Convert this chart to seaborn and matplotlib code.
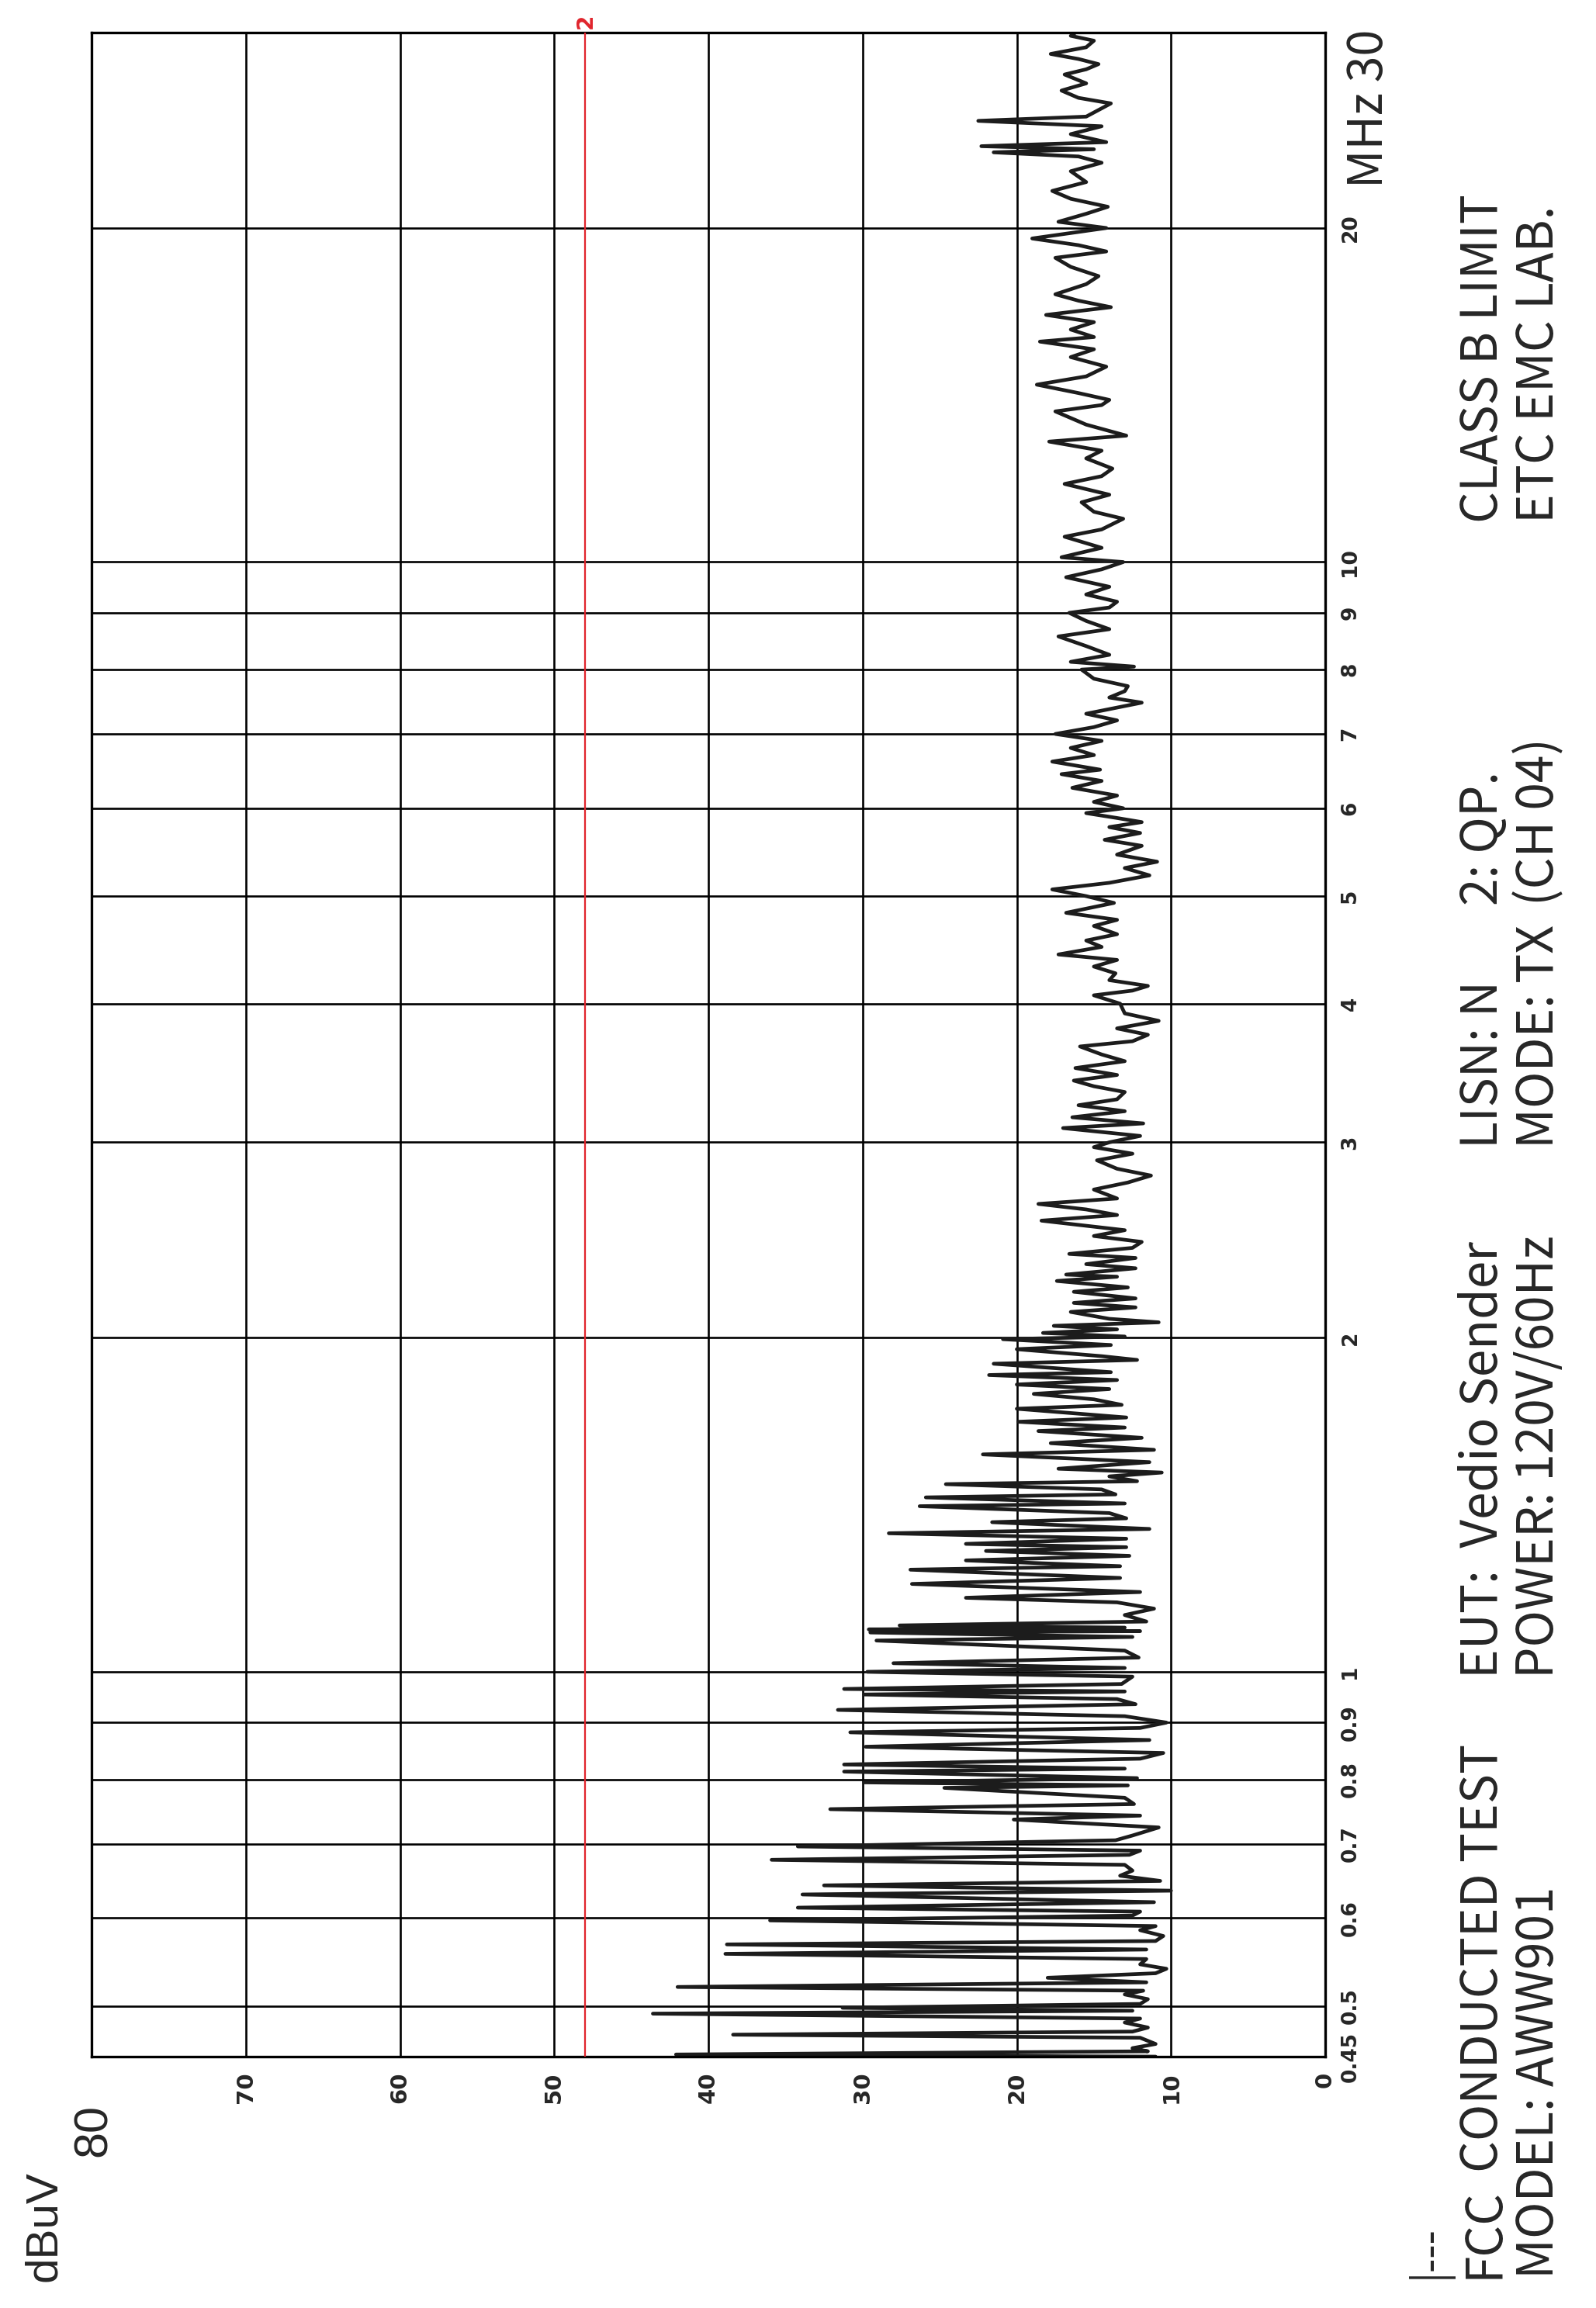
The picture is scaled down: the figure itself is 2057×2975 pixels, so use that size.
import matplotlib
matplotlib.use("Agg")
import matplotlib.pyplot as plt
import matplotlib.ticker as mticker
import seaborn as sns
import pandas as pd

# ---- trace (MHz, dBuV) ----
freq_mhz = [
    # 0.45 - 0.7 MHz
    0.450, 0.452, 0.455, 0.458, 0.462, 0.468, 0.471, 0.474, 0.478, 0.483,
    0.487, 0.492, 0.495, 0.498, 0.502, 0.507, 0.512, 0.516, 0.520, 0.525,
    0.530, 0.535, 0.540, 0.545, 0.551, 0.557, 0.562, 0.568, 0.572, 0.578,
    0.585, 0.590, 0.597, 0.603, 0.608, 0.613, 0.620, 0.630, 0.635, 0.642,
    0.648, 0.655, 0.662, 0.670, 0.677, 0.684, 0.690, 0.696, 0.705,
    # 0.7 - 1.09 MHz
    0.712, 0.724, 0.736, 0.742, 0.752, 0.760, 0.770, 0.786, 0.790, 0.795,
    0.802, 0.813, 0.818, 0.825, 0.835, 0.845, 0.856, 0.868, 0.882, 0.890,
    0.900, 0.912, 0.924, 0.935, 0.945, 0.954, 0.960, 0.965, 0.975, 0.990,
    1.000, 1.008, 1.018, 1.030, 1.045, 1.067, 1.075, 1.085,
    # 1.09 - 2.05 MHz
    1.088, 1.092, 1.096, 1.101, 1.110, 1.125, 1.140, 1.155, 1.166, 1.180,
    1.200, 1.215, 1.236, 1.245, 1.260, 1.272, 1.285, 1.295, 1.304, 1.318,
    1.333, 1.345, 1.364, 1.375, 1.390, 1.410, 1.418, 1.436, 1.445, 1.460,
    1.476, 1.485, 1.500, 1.512, 1.524, 1.545, 1.570, 1.585, 1.607, 1.625,
    1.648, 1.660, 1.680, 1.695, 1.726, 1.740, 1.760, 1.780, 1.798, 1.815,
    1.832, 1.851, 1.862, 1.895, 1.910, 1.925, 1.953, 1.970, 1.994, 2.005,
    2.020, 2.035, 2.050,
    # 2 - 5.3 MHz
    2.065, 2.08, 2.11, 2.13, 2.15, 2.17, 2.20, 2.22, 2.25, 2.27,
    2.28, 2.31, 2.33, 2.36, 2.38, 2.41, 2.44, 2.47, 2.50, 2.55,
    2.58, 2.61, 2.64, 2.67, 2.72, 2.76, 2.80, 2.84, 2.89, 2.93,
    2.97, 3.00, 3.04, 3.09, 3.12, 3.16, 3.20, 3.24, 3.28, 3.33,
    3.37, 3.41, 3.45, 3.50, 3.55, 3.60, 3.66, 3.70, 3.75, 3.80,
    3.86, 3.92, 4.00, 4.07, 4.11, 4.15, 4.20, 4.26, 4.32, 4.38,
    4.43, 4.50, 4.56, 4.62, 4.70, 4.76, 4.83, 4.93, 5.00, 5.07,
    5.14, 5.22, 5.30,
    # 5.3 - 14 MHz
    5.37, 5.45, 5.55, 5.62, 5.70, 5.77, 5.83, 5.88, 5.94, 6.00,
    6.08, 6.16, 6.26, 6.35, 6.44, 6.50, 6.61, 6.70, 6.80, 6.90,
    7.00, 7.10, 7.20, 7.30, 7.47, 7.55, 7.65, 7.73, 7.85, 8.00,
    8.05, 8.13, 8.25, 8.40, 8.57, 8.70, 8.85, 9.00, 9.10, 9.21,
    9.35, 9.50, 9.69, 9.85, 10.0, 10.1, 10.3, 10.54, 10.7, 10.94,
    11.1, 11.32, 11.5, 11.76, 11.95, 12.14, 12.4, 12.6, 12.84, 13.0,
    13.3, 13.67, 13.85,
    # 14 - 30 MHz
    14.0, 14.2, 14.45, 14.7, 15.0, 15.3, 15.55, 15.8, 15.95, 16.2,
    16.45, 16.7, 16.97, 17.2, 17.43, 17.8, 18.1, 18.45, 18.8, 19.05,
    19.3, 19.57, 20.0, 20.26, 20.6, 20.9, 21.25, 21.6, 22.0, 22.5,
    22.9, 23.2, 23.4, 23.55, 23.7, 23.9, 24.3, 24.7, 24.98, 25.2,
    25.9, 26.2, 26.6, 27.0, 27.5, 27.8, 28.1, 28.4, 28.7, 29.1,
    29.5, 29.8, 30.0,
]
level_dbuv = [
    11.0, 42.1, 11.5, 12.5, 11.0, 12.0, 38.4, 12.5, 11.5, 13.0,
    12.0, 43.6, 12.5, 31.3, 12.0, 11.5, 13.0, 11.8, 42.0, 11.6,
    18.0, 11.0, 10.3, 12.0, 11.6, 38.9, 11.6, 38.8, 11.0, 10.5,
    12.0, 11.0, 36.0, 12.5, 12.0, 34.2, 11.1, 33.9, 10.0, 32.5,
    10.7, 13.3, 12.5, 13.0, 35.9, 12.7, 12.0, 34.2, 13.6,

    12.5, 10.8, 20.2, 12.0, 32.1, 12.4, 13.0, 24.7, 12.8, 29.9,
    12.2, 31.2, 13.0, 31.2, 12.0, 10.5, 29.8, 11.4, 30.8, 12.0,
    10.3, 13.0, 31.6, 12.3, 13.5, 29.9, 13.0, 31.2, 13.2, 12.5,
    29.7, 13.0, 28.0, 12.1, 13.0, 29.1, 12.5, 29.5,

    12.0, 29.6, 13.0, 27.6, 11.6, 13.0, 11.1, 13.5, 23.3, 12.0,
    26.8, 13.3, 26.9, 13.3, 23.3, 12.7, 22.0, 12.9, 23.3, 12.9,
    28.3, 11.4, 21.6, 12.9, 14.0, 26.3, 13.0, 25.9, 13.6, 14.5,
    24.6, 12.2, 14.0, 10.6, 17.3, 11.4, 22.2, 11.1, 17.8, 11.9,
    18.6, 13.0, 19.9, 12.9, 20.0, 13.2, 15.0, 18.9, 14.0, 20.0,
    13.5, 21.8, 13.9, 21.5, 12.2, 14.5, 20.0, 13.9, 20.9, 13.0,
    18.3, 13.5, 17.6,

    10.8, 14.0, 16.5, 12.3, 16.3, 12.3, 16.3, 12.8, 17.4, 13.5,
    16.8, 12.3, 15.5, 12.3, 16.6, 12.5, 11.9, 15.0, 13.0, 18.4,
    13.5, 15.5, 18.6, 13.5, 15.0, 12.8, 11.3, 13.5, 14.8, 12.5,
    15.0, 14.0, 12.0, 17.0, 11.8, 16.4, 13.0, 16.0, 13.5, 13.0,
    15.0, 16.3, 13.5, 16.2, 13.0, 14.5, 15.9, 12.5, 11.5, 13.5,
    10.8, 13.0, 13.3, 15.0, 12.5, 11.5, 14.0, 13.6, 15.0, 13.5,
    17.3, 14.5, 15.5, 13.5, 15.0, 13.5, 16.8, 13.7, 15.5, 17.7,
    14.0, 11.4, 13.0,

    10.9, 13.5, 11.9, 14.3, 12.0, 14.0, 11.9, 13.5, 15.5, 13.1,
    15.0, 13.5, 16.4, 14.5, 17.1, 14.6, 17.7, 15.0, 16.5, 14.5,
    17.5, 15.0, 13.5, 15.5, 11.9, 14.0, 13.0, 12.8, 15.0, 15.8,
    12.4, 16.5, 14.0, 15.5, 17.3, 14.0, 15.5, 16.6, 14.0, 13.5,
    15.5, 14.0, 16.8, 14.5, 13.1, 17.1, 14.5, 16.9, 14.5, 13.1,
    15.0, 15.8, 14.0, 16.9, 14.5, 13.8, 15.5, 14.5, 17.9, 12.9,
    15.5, 17.5, 14.5,

    14.0, 16.0, 18.7, 15.5, 14.2, 16.5, 15.0, 18.5, 15.0, 16.5,
    15.0, 18.1, 13.9, 16.0, 17.5, 15.5, 14.7, 16.5, 17.5, 14.2,
    16.0, 19.0, 14.2, 17.3, 15.5, 14.1, 16.5, 17.7, 15.5, 16.5,
    14.5, 16.0, 21.5, 15.0, 22.3, 14.2, 16.5, 14.5, 22.5, 15.5,
    13.9, 16.0, 17.1, 15.5, 16.9, 15.5, 14.7, 16.0, 17.8, 15.5,
    15.0, 16.5, 16.2,
]
limit_dbuv = 48.0

freq_ticks = [0.45, 0.5, 0.6, 0.7, 0.8, 0.9, 1, 2, 3, 4, 5, 6, 7, 8, 9, 10, 20, 30]
freq_labels = ['0.45', '0.5', '0.6', '0.7', '0.8', '0.9', '1', '2', '3', '4',
               '5', '6', '7', '8', '9', '10', '20', '']
level_ticks = [0, 10, 20, 30, 40, 50, 60, 70, 80]
level_labels = ['0', '10', '20', '30', '40', '50', '60', '70', '']

# header lines: (text, bottom edge in px)
header_col1 = [('FCC', 2937), ('CONDUCTED TEST', 2800), ('EUT:  Vedio Sender', 2163),
               ('LISN: N', 1480), ('2: QP.', 1167), ('CLASS B LIMIT', 674)]
header_col2 = [('MODEL: AWW901', 2937), ('POWER: 120V/60Hz', 2163),
               ('MODE: TX', 1480), ('(CH 04)', 1167), ('ETC EMC LAB.', 674)]

df = pd.DataFrame({'freq': freq_mhz, 'level': level_dbuv})

sns.set_theme(style='white')
plt.rcParams['font.family'] = ['DejaVu Sans']
narrow = ['Noto Sans CJK JP', 'Liberation Sans', 'DejaVu Sans']

W, H = 2057, 2975
fig = plt.figure(figsize=(W / 100, H / 100), dpi=100)
fig.patch.set_facecolor('white')
ax = fig.add_axes([118 / W, 1 - 2651 / H, (1708 - 118) / W, (2651 - 42) / H])

ax.set_yscale('log')
sns.lineplot(data=df, x='level', y='freq', orient='y', sort=False, estimator=None,
             color='#1c1c1c', lw=3.4, ax=ax)
ax.axvline(limit_dbuv, color='#e0242c', lw=1.6, zorder=3)

ax.set_xlim(80, 0)
ax.set_ylim(0.45, 30)
ax.set_xticks(level_ticks)
ax.set_xticklabels(level_labels, rotation=90, fontsize=21, fontweight='bold')
ax.yaxis.tick_right()
ax.yaxis.set_major_locator(mticker.FixedLocator(freq_ticks))
ax.yaxis.set_minor_locator(mticker.NullLocator())
ax.set_yticklabels(freq_labels, rotation=90, fontsize=19, fontweight='bold', va='center')
ax.tick_params(axis='x', length=0, pad=14)
ax.tick_params(axis='y', length=0, pad=14)
ax.set_xlabel('')
ax.set_ylabel('')
ax.grid(True, color='black', lw=1.9)
for s in ax.spines.values():
    s.set_color('black')
    s.set_linewidth(2.4)
    s.set_visible(True)


def put(txt, x, y, va='bottom', **kw):
    fig.text(x / W, 1 - y / H, txt, rotation=90, ha='center', va=va, **kw)


for txt, yb in header_col1:
    put(txt, 1912, yb, family=narrow, fontsize=46)
for txt, yb in header_col2:
    put(txt, 1984, yb, family=narrow, fontsize=46)
put('|---', 1842, 2937, family=narrow, fontsize=38)
put('MHz 30', 1765, 38, va='top', family=narrow, fontsize=44)
put('dBuV', 57, 2941, family=['Liberation Sans', 'DejaVu Sans'], fontsize=42)
put('80', 121, 2712, va='top', family=['Liberation Sans', 'DejaVu Sans'], fontsize=44)
put('2', 755, 27, va='center', color='#e0242c', fontsize=20, fontweight='bold')

fig.savefig('out.png', dpi=100, facecolor='white')
